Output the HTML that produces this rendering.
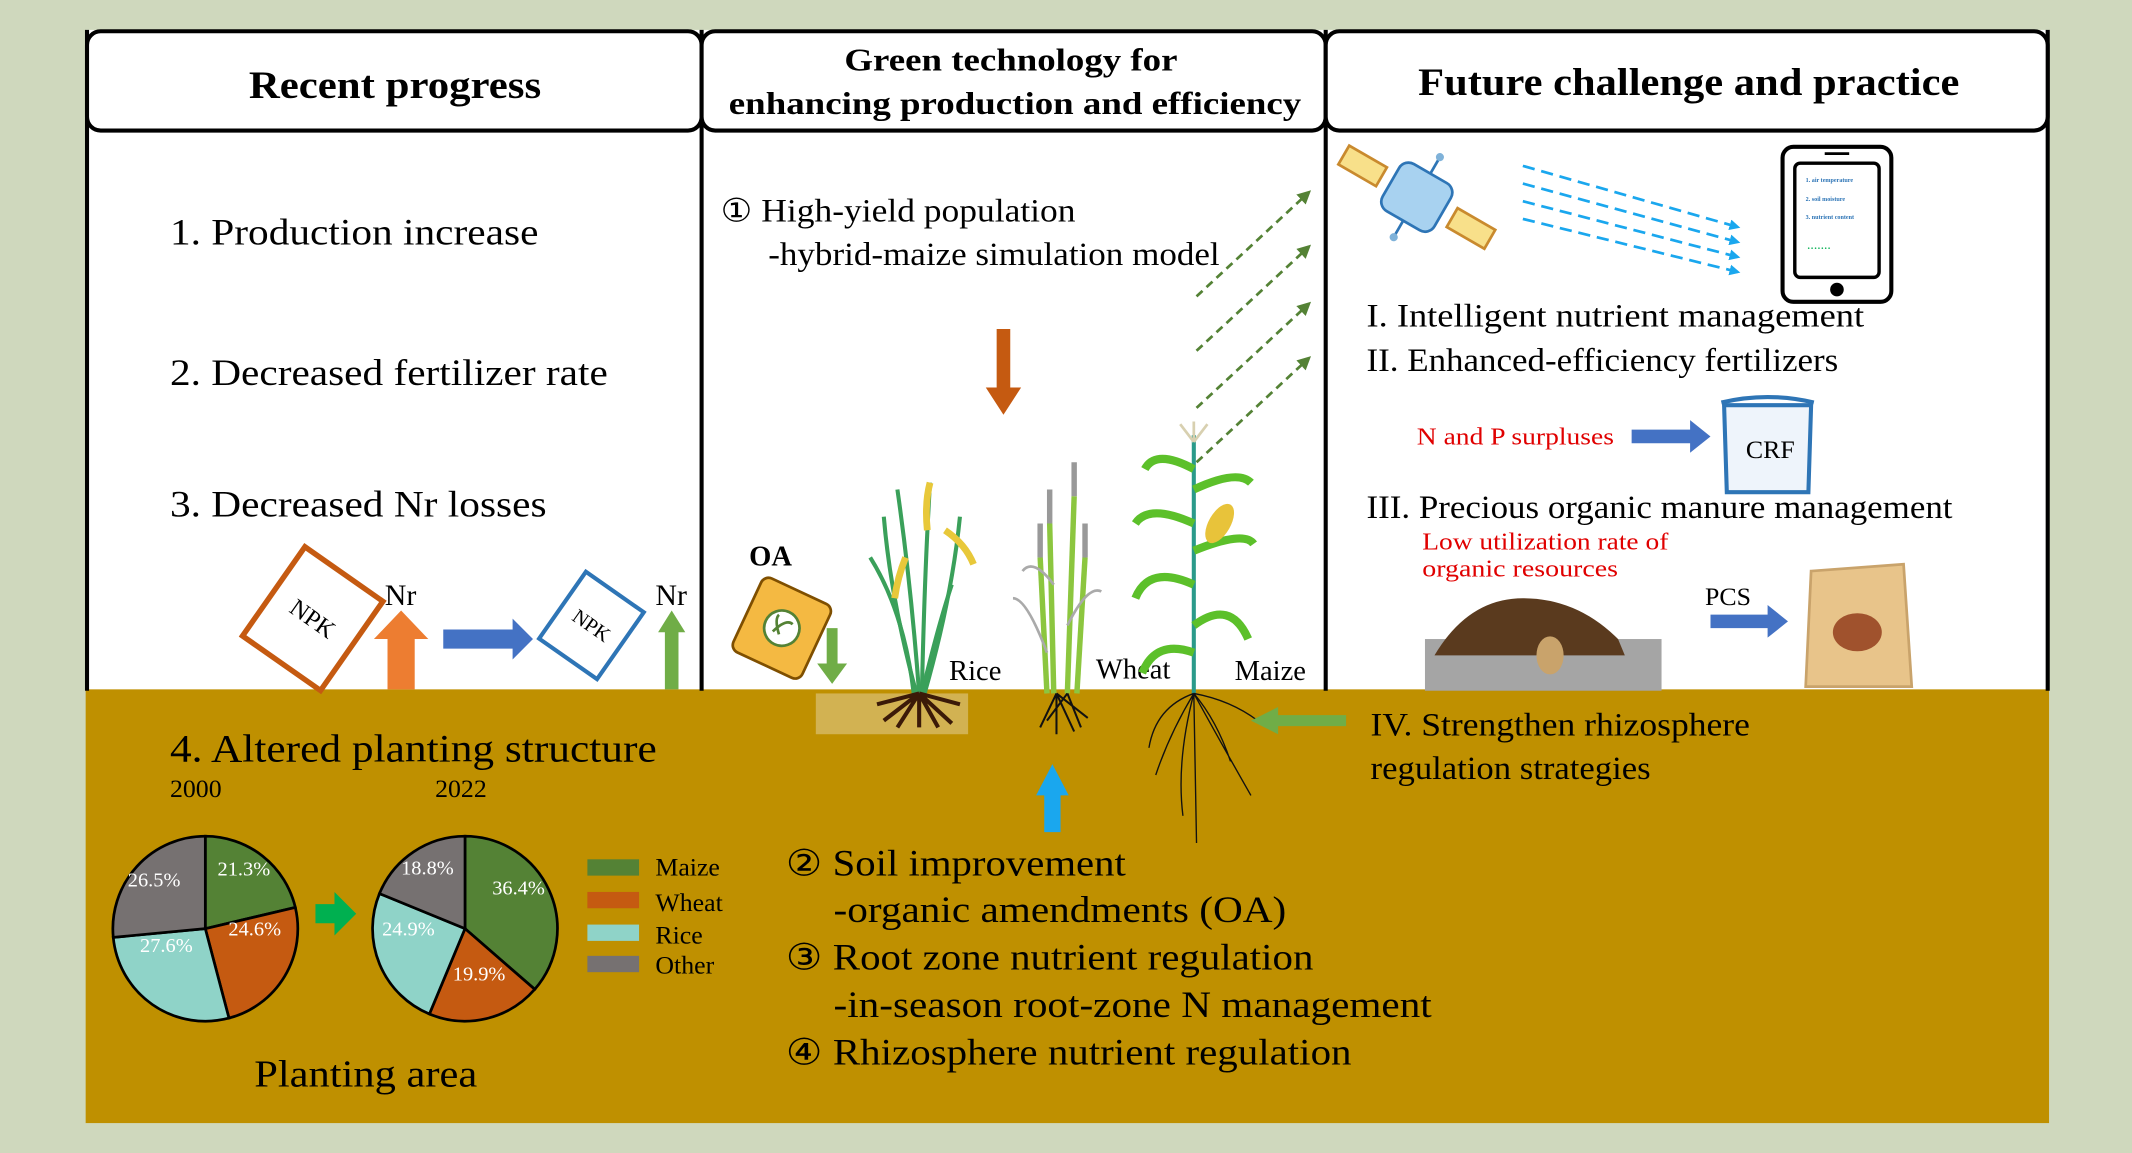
<!DOCTYPE html>
<html><head><meta charset="utf-8"><style>
html,body{margin:0;padding:0;background:#cfd8bd;}
svg{display:block;}
text{font-family:"Liberation Serif",serif;}
</style></head><body>
<svg width="2132" height="1153" viewBox="0 0 1568 848" preserveAspectRatio="none" xmlns="http://www.w3.org/2000/svg">
<defs>
<marker id="ab" markerWidth="8" markerHeight="8" refX="6" refY="4" orient="auto" markerUnits="userSpaceOnUse"><path d="M0,0 L8,4 L0,8 z" fill="#1aa7ee"/></marker>
<marker id="ag" markerWidth="10" markerHeight="10" refX="7" refY="5" orient="auto" markerUnits="userSpaceOnUse"><path d="M0,0 L10,5 L0,10 z" fill="#548235"/></marker>
</defs>
<rect width="1568" height="848" fill="#cfd8bd"/>
<rect x="63" y="22" width="1444" height="486" fill="#fff"/>
<rect x="63" y="507" width="1444" height="319" fill="#bf9000"/>
<line x1="64" y1="22" x2="64" y2="508" stroke="#000" stroke-width="3"/>
<line x1="516" y1="22" x2="516" y2="508" stroke="#000" stroke-width="3"/>
<line x1="975" y1="22" x2="975" y2="508" stroke="#000" stroke-width="3"/>
<line x1="1506" y1="22" x2="1506" y2="508" stroke="#000" stroke-width="3"/>
<rect x="64" y="23" width="452" height="73" rx="10" fill="#fff" stroke="#000" stroke-width="3"/>
<rect x="516" y="23" width="459" height="73" rx="10" fill="#fff" stroke="#000" stroke-width="3"/>
<rect x="975" y="23" width="531" height="73" rx="10" fill="#fff" stroke="#000" stroke-width="3"/>
<text x="183" y="72" font-size="29" font-weight="bold" textLength="215" lengthAdjust="spacingAndGlyphs">Recent progress</text>
<text x="621" y="52" font-size="23" font-weight="bold" textLength="245" lengthAdjust="spacingAndGlyphs">Green technology for</text>
<text x="536" y="84" font-size="23" font-weight="bold" textLength="421" lengthAdjust="spacingAndGlyphs">enhancing production and efficiency</text>
<text x="1043" y="70" font-size="29" font-weight="bold" textLength="398" lengthAdjust="spacingAndGlyphs">Future challenge and practice</text>
<g font-size="27">
<text x="125" y="180" textLength="271" lengthAdjust="spacingAndGlyphs">1. Production increase</text>
<text x="125" y="283" textLength="322" lengthAdjust="spacingAndGlyphs">2. Decreased fertilizer rate</text>
<text x="125" y="380" textLength="277" lengthAdjust="spacingAndGlyphs">3. Decreased Nr losses</text>
</g>
<g transform="translate(230,455) rotate(35)">
<rect x="-35" y="-40" width="70" height="80" fill="#fff" stroke="#c55a11" stroke-width="4"/>
<text x="0" y="6" font-size="18" text-anchor="middle">NPK</text>
</g>
<path d="M285,507 V470 H275 L295,449 L315,470 H305 V507 z" fill="#ed7d31"/>
<text x="283" y="445" font-size="22">Nr</text>
<path d="M326,463 H377 V455 L392,470 L377,485 V477 H326 z" fill="#4472c4"/>
<g transform="translate(435,460) rotate(35)">
<rect x="-26" y="-30" width="52" height="60" fill="#fff" stroke="#2e75b6" stroke-width="3"/>
<text x="0" y="5" font-size="15" text-anchor="middle">NPK</text>
</g>
<path d="M489,507 V465 H484 L494,449 L504,465 H499 V507 z" fill="#70ad47"/>
<text x="482" y="445" font-size="22">Nr</text>
<text x="530" y="163" font-size="24" textLength="261" lengthAdjust="spacingAndGlyphs">① High-yield population</text>
<text x="565" y="195" font-size="24" textLength="332" lengthAdjust="spacingAndGlyphs">-hybrid-maize simulation model</text>
<path d="M733,242 H743 V285 H751 L738,305 L725,285 H733 z" fill="#c55a11"/>
<g stroke="#548235" stroke-width="2" stroke-dasharray="6,4" marker-end="url(#ag)">
<line x1="880" y1="218" x2="962" y2="142"/>
<line x1="880" y1="258" x2="962" y2="182"/>
<line x1="880" y1="300" x2="962" y2="224"/>
<line x1="880" y1="340" x2="962" y2="264"/>
</g>
<text x="551" y="416" font-size="21" font-weight="bold">OA</text>
<g transform="translate(575,462) rotate(25)">
<rect x="-28" y="-30" width="56" height="60" rx="6" fill="#f4b942" stroke="#7f4f00" stroke-width="2"/>
<circle cx="0" cy="0" r="13" fill="#fff" stroke="#548235" stroke-width="2"/>
<path d="M-5,5 Q0,-8 6,-6 M0,5 Q-8,-4 -6,-8" stroke="#548235" stroke-width="2" fill="none"/>
</g>
<path d="M608,462 H616 V488 H623 L612,503 L601,488 H608 z" fill="#70ad47"/>
<!-- rice -->
<rect x="600" y="510" width="112" height="30" fill="#e9dcb5" opacity="0.45"/>
<g stroke="#3aa05a" stroke-width="3" fill="none">
<path d="M676,510 Q670,430 660,360"/><path d="M678,510 Q680,420 684,355"/><path d="M674,510 Q655,440 650,380"/><path d="M680,510 Q700,440 706,380"/><path d="M672,510 Q665,450 640,410"/><path d="M678,510 Q690,460 700,430"/>
</g>
<g stroke="#e8c83a" stroke-width="5" fill="none"><path d="M684,355 Q680,370 682,390"/><path d="M695,390 Q710,400 716,415"/><path d="M666,410 Q660,425 658,440"/></g>
<g stroke="#3b1a08" stroke-width="3"><path d="M676,510 L650,530 M676,510 L700,532 M676,510 L676,535 M676,510 L660,535 M676,510 L690,535 M676,510 L706,518 M676,510 L645,518"/></g>
<text x="698" y="500" font-size="21">Rice</text>
<!-- wheat -->
<g stroke="#8cc63f" stroke-width="4" fill="none">
<path d="M775,510 L772,385"/><path d="M785,510 L790,365"/><path d="M770,510 L765,410"/><path d="M792,510 L798,410"/>
</g>
<g stroke="#aaa" stroke-width="2" fill="none"><path d="M770,480 Q755,440 745,440"/><path d="M785,460 Q800,430 810,435"/><path d="M775,430 Q760,410 752,420"/></g>
<g stroke="#999" stroke-width="4"><path d="M772,385 L772,360 M790,365 L790,340 M765,410 L765,385 M798,410 L798,385"/></g>
<g stroke="#111" stroke-width="1.5" fill="none"><path d="M777,510 L765,535 M777,510 L790,538 M777,510 L777,540 M777,510 L800,528 M785,510 L770,530 M785,510 L795,535"/></g>
<text x="806" y="499" font-size="21">Wheat</text>
<!-- maize -->
<line x1="878" y1="320" x2="878" y2="510" stroke="#2a9a8a" stroke-width="3"/>
<g stroke="#5cc02a" stroke-width="6" fill="none">
<path d="M878,480 Q850,470 840,495"/><path d="M878,460 Q905,440 918,470"/><path d="M878,430 Q845,415 835,440"/><path d="M878,405 Q915,390 922,400"/><path d="M878,385 Q845,370 835,385"/><path d="M878,360 Q910,345 920,355"/><path d="M878,345 Q850,330 842,345"/>
</g>
<ellipse cx="897" cy="385" rx="8" ry="16" fill="#e8c33a" transform="rotate(30 897 385)"/>
<path d="M878,325 L868,312 M878,325 L888,312 M878,325 L878,310" stroke="#d8d0b0" stroke-width="2"/>
<g stroke="#111" stroke-width="1" fill="none">
<path d="M878,510 Q860,540 850,570 M878,510 Q900,550 920,585 M878,510 L880,620 M878,510 Q865,560 870,600 M878,510 Q895,530 905,560 M878,510 Q850,520 845,550 M878,510 Q905,515 925,530"/>
</g>
<text x="908" y="500" font-size="21">Maize</text>
<!-- right -->
<g transform="translate(1042,145) rotate(30)">
<rect x="-62" y="-8" width="32" height="16" fill="#f8e08a" stroke="#c98a2e" stroke-width="2"/>
<rect x="30" y="-8" width="32" height="16" fill="#f8e08a" stroke="#c98a2e" stroke-width="2"/>
<rect x="-22" y="-20" width="44" height="40" rx="8" fill="#a8d2f0" stroke="#2e75b6" stroke-width="2"/>
<line x1="0" y1="-20" x2="0" y2="-32" stroke="#2e75b6" stroke-width="2"/><circle cx="0" cy="-34" r="3" fill="#7fb2d9"/>
<line x1="0" y1="20" x2="0" y2="32" stroke="#2e75b6" stroke-width="2"/><circle cx="0" cy="34" r="3" fill="#7fb2d9"/>
</g>
<g stroke="#1aa7ee" stroke-width="2" stroke-dasharray="9,5" marker-end="url(#ab)">
<line x1="1120" y1="122" x2="1278" y2="167"/>
<line x1="1120" y1="135" x2="1278" y2="178"/>
<line x1="1120" y1="148" x2="1278" y2="189"/>
<line x1="1120" y1="161" x2="1278" y2="200"/>
</g>
<rect x="1311" y="108" width="80" height="114" rx="8" fill="#fff" stroke="#000" stroke-width="3"/>
<rect x="1320" y="120" width="62" height="84" rx="4" fill="#fff" stroke="#000" stroke-width="2.5"/>
<line x1="1342" y1="113" x2="1360" y2="113" stroke="#000" stroke-width="2"/>
<circle cx="1351" cy="213" r="5" fill="#000"/>
<g font-size="4.5" fill="#2e75b6" font-weight="bold"><text x="1328" y="134">1. air temperature</text><text x="1328" y="148">2. soil moisture</text><text x="1328" y="161">3. nutrient content</text></g>
<text x="1329" y="183" font-size="10" fill="#00b050">.......</text>
<text x="1005" y="240" font-size="24" textLength="366" lengthAdjust="spacingAndGlyphs">I.  Intelligent  nutrient management</text>
<text x="1005" y="273" font-size="24" textLength="347" lengthAdjust="spacingAndGlyphs">II. Enhanced-efficiency fertilizers</text>
<text x="1042" y="327" font-size="18" fill="#e00000" textLength="145" lengthAdjust="spacingAndGlyphs">N and P surpluses</text>
<path d="M1200,316 H1243 V309 L1258,321 L1243,333 V326 H1200 z" fill="#4472c4"/>
<path d="M1268,298 L1332,298 L1330,362 L1270,362 z" fill="#eef4fb" stroke="#2e75b6" stroke-width="3"/>
<path d="M1266,296 Q1300,288 1334,296" stroke="#2e75b6" stroke-width="3" fill="none"/>
<text x="1302" y="337" font-size="19" text-anchor="middle">CRF</text>
<text x="1005" y="381" font-size="24" textLength="431" lengthAdjust="spacingAndGlyphs">III. Precious organic manure management</text>
<text x="1046" y="404" font-size="18" fill="#e00000" textLength="181" lengthAdjust="spacingAndGlyphs">Low utilization rate of</text>
<text x="1046" y="424" font-size="18" fill="#e00000" textLength="144" lengthAdjust="spacingAndGlyphs">organic  resources</text>
<rect x="1048" y="470" width="174" height="38" fill="#a5a5a5"/>
<path d="M1055,482 Q1080,440 1120,440 Q1160,440 1190,470 L1195,482 z" fill="#5a3a1e"/>
<ellipse cx="1140" cy="482" rx="10" ry="14" fill="#c9a36b"/>
<text x="1254" y="445" font-size="19">PCS</text>
<path d="M1258,452 H1300 V445 L1315,457 L1300,469 V462 H1258 z" fill="#4472c4"/>
<path d="M1332,420 L1400,415 L1406,505 L1328,505 z" fill="#e8c48a" stroke="#c9a36b" stroke-width="2"/>
<ellipse cx="1366" cy="465" rx="18" ry="14" fill="#a0522d"/>
<!-- soil -->
<text x="125" y="560" font-size="29" textLength="358" lengthAdjust="spacingAndGlyphs">4. Altered planting structure</text>
<text x="125" y="586" font-size="19">2000</text>
<text x="320" y="586" font-size="19">2022</text>
<g stroke="#000" stroke-width="2">
<path d="M151,683 L151,615 A68,68 0 0 1 217.2,667.4 z" fill="#548235"/>
<path d="M151,683 L217.2,667.4 A68,68 0 0 1 168.4,748.8 z" fill="#c55a11"/>
<path d="M151,683 L168.4,748.8 A68,68 0 0 1 83.3,689.4 z" fill="#8fd3c8"/>
<path d="M151,683 L83.3,689.4 A68,68 0 0 1 151,615 z" fill="#767171"/>
<path d="M342,683 L342,615 A68,68 0 0 1 393.3,727.6 z" fill="#548235"/>
<path d="M342,683 L393.3,727.6 A68,68 0 0 1 315.8,745.8 z" fill="#c55a11"/>
<path d="M342,683 L315.8,745.8 A68,68 0 0 1 279.1,657.2 z" fill="#8fd3c8"/>
<path d="M342,683 L279.1,657.2 A68,68 0 0 1 342,615 z" fill="#767171"/>
</g>
<g font-size="15" fill="#fff">
<text x="160" y="644">21.3%</text><text x="94" y="652">26.5%</text><text x="168" y="688">24.6%</text><text x="103" y="700">27.6%</text>
<text x="295" y="643">18.8%</text><text x="362" y="658">36.4%</text><text x="281" y="688">24.9%</text><text x="333" y="721">19.9%</text>
</g>
<path d="M232,665 H246 V656 L262,672 L246,688 V679 H232 z" fill="#00b050"/>
<rect x="432" y="632" width="38" height="12" fill="#548235"/>
<rect x="432" y="656" width="38" height="12" fill="#c55a11"/>
<rect x="432" y="680" width="38" height="12" fill="#8fd3c8"/>
<rect x="432" y="703" width="38" height="12" fill="#767171"/>
<g font-size="19"><text x="482" y="644">Maize</text><text x="482" y="670">Wheat</text><text x="482" y="694">Rice</text><text x="482" y="716">Other</text></g>
<text x="187" y="799" font-size="28" textLength="164" lengthAdjust="spacingAndGlyphs">Planting area</text>
<path d="M768,612 V585 H762 L774,562 L786,585 H780 V612 z" fill="#1aa7ee"/>
<path d="M990,526 H940 V520 L920,530 L940,540 V534 H990 z" fill="#70ad47"/>
<text x="1008" y="541" font-size="24" textLength="279" lengthAdjust="spacingAndGlyphs">IV. Strengthen rhizosphere</text>
<text x="1008" y="573" font-size="24" textLength="206" lengthAdjust="spacingAndGlyphs">regulation strategies</text>
<g font-size="27">
<text x="578" y="644" textLength="250" lengthAdjust="spacingAndGlyphs">② Soil improvement</text>
<text x="613" y="678" textLength="333" lengthAdjust="spacingAndGlyphs">-organic amendments (OA)</text>
<text x="578" y="713" textLength="388" lengthAdjust="spacingAndGlyphs">③ Root zone nutrient regulation</text>
<text x="613" y="748" textLength="440" lengthAdjust="spacingAndGlyphs">-in-season root-zone N management</text>
<text x="578" y="783" textLength="416" lengthAdjust="spacingAndGlyphs">④ Rhizosphere nutrient regulation</text>
</g>
</svg>
</body></html>
